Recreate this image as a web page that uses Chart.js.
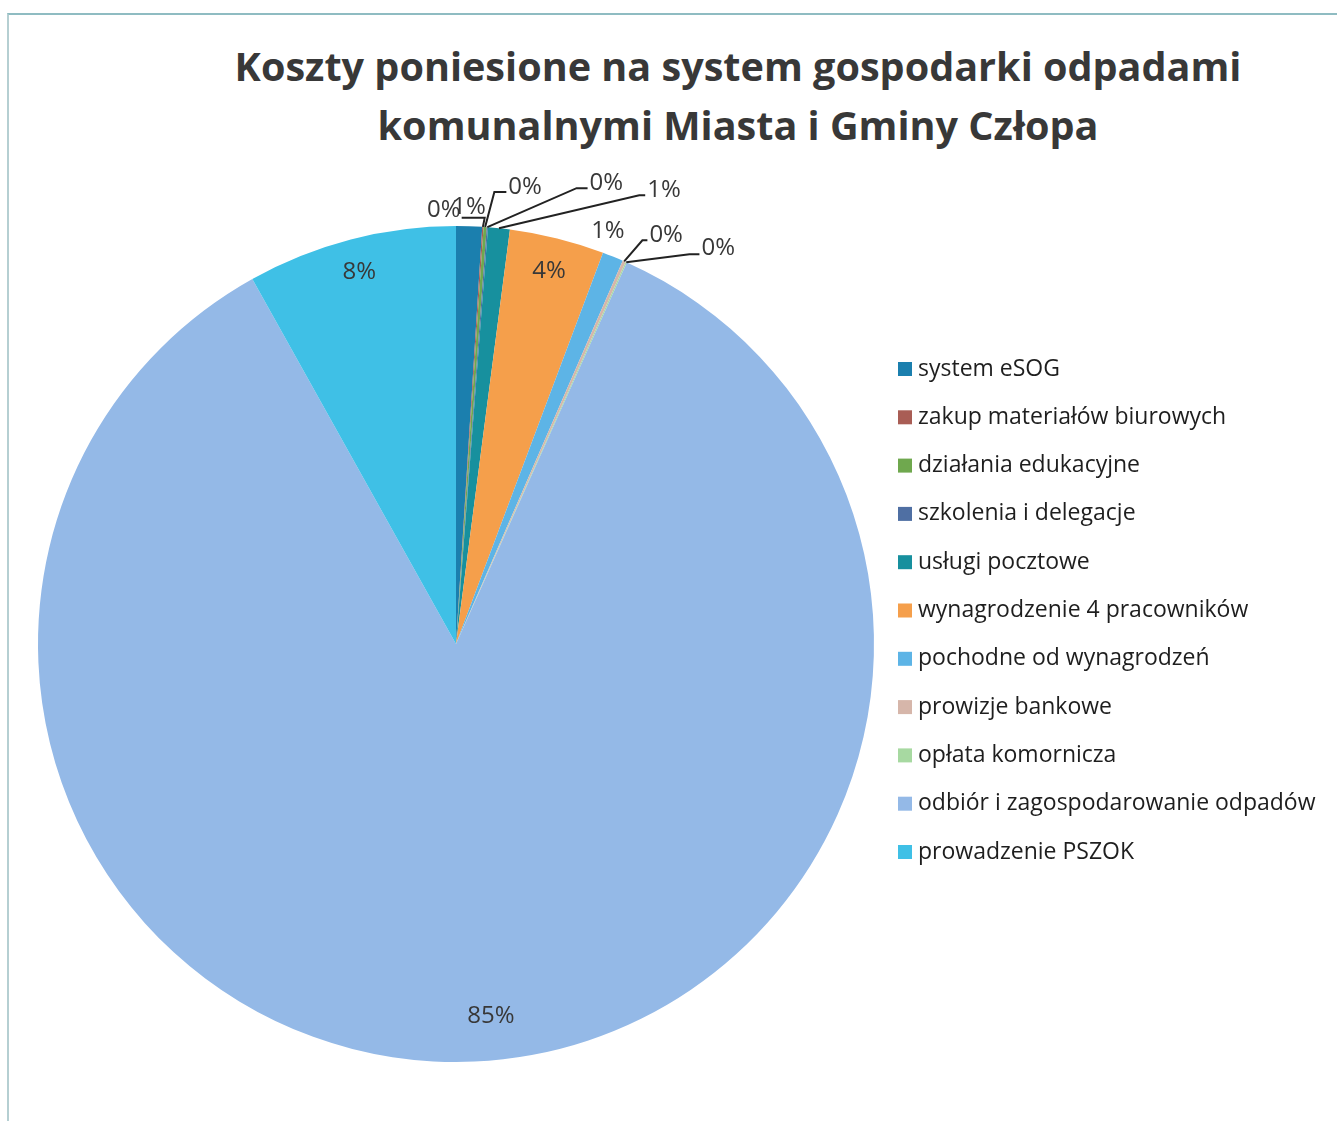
<!DOCTYPE html>
<html>
<head>
<meta charset="utf-8">
<script src="https://cdn.jsdelivr.net/npm/chart.js@4.4.0/dist/chart.umd.min.js"></script>
<style>
body { margin: 0; background: #fff; }
#wrap { position: relative; width: 1337px; height: 1121px; overflow: hidden; background: #fff; }
#frame { position: absolute; left: 7px; top: 13px; width: 1400px; height: 1200px;
  border-top: 2px solid #8fbcc2; border-left: 2px solid #b5cfd2; }
#title { position: absolute; left: 138px; width: 1200px; top: 37px; text-align: center;
  font: bold 39.6px 'Open Sans', sans-serif; color: #383838; line-height: 59px; }
canvas { position: absolute; left: 0; top: 0; }
</style>
</head>
<body>
<div id="wrap">
  <div id="frame"></div>
  <div id="title">Koszty poniesione na system gospodarki odpadami<br>komunalnymi Miasta i Gminy Człopa</div>
  <canvas id="pie" width="1337" height="1121"></canvas>
</div>
<script>
const categories = [
    'system eSOG',
    'zakup materiałów biurowych',
    'działania edukacyjne',
    'szkolenia i delegacje',
    'usługi pocztowe',
    'wynagrodzenie 4 pracowników',
    'pochodne od wynagrodzeń',
    'prowizje bankowe',
    'opłata komornicza',
    'odbiór i zagospodarowanie odpadów',
    'prowadzenie PSZOK'
];
const shares = [1.0, 0.05, 0.12, 0.05, 0.84, 3.66, 0.81, 0.12, 0.05, 85.2, 8.1];
const sliceColors = ['#1b7fae', '#a95d55', '#6fa84e', '#4f6fa3', '#17909e', '#f59f4b',
    '#5db4e6', '#d6b6aa', '#a7d9a1', '#94b9e7', '#3fc0e6'];

// label placement: offset from slice edge (outside) or from radial point (inside)
const labelPlacement = [
    { out: true, dx: 0, dy: -19 },
    { out: true, dx: -39, dy: -17, leader: 'right', hx: 23, ly: 8 },
    { out: true, dx: 40, dy: -40, leader: 'left', hx: 12, ly: 5 },
    { out: true, dx: 119, dy: -44, leader: 'left', hx: 11, ly: 5 },
    { out: true, dx: 165, dy: -38, leader: 'left', hx: 6, ly: 5 },
    { out: false, dx: 0, dy: 0 },
    { out: true, dx: -5, dy: -25 },
    { out: true, dx: 42, dy: -26, leader: 'left', hx: 5, ly: 5 },
    { out: true, dx: 92, dy: -14, leader: 'left', hx: 10, ly: 6 },
    { out: false, dx: 18, dy: -12 },
    { out: false, dx: 0, dy: 0 }
];

const pieLabels = {
    id: 'pieLabels',
    afterDatasetsDraw(chart) {
        const ctx = chart.ctx;
        const meta = chart.getDatasetMeta(0);
        const data = chart.data.datasets[0].data;
        const total = data.reduce((a, b) => a + b, 0);
        ctx.save();
        ctx.font = '24px "Open Sans"';
        ctx.textAlign = 'center';
        ctx.textBaseline = 'middle';
        meta.data.forEach((arc, i) => {
            const p = arc.getProps(['x', 'y', 'startAngle', 'endAngle', 'outerRadius']);
            const mid = (p.startAngle + p.endAngle) / 2;
            const pl = labelPlacement[i];
            const r = pl.out ? p.outerRadius : p.outerRadius * 0.92;
            const ax = p.x + Math.cos(mid) * r;
            const ay = p.y + Math.sin(mid) * r;
            const lx = ax + pl.dx;
            const ly = ay + pl.dy;
            const txt = Math.round(data[i] / total * 100) + '%';
            ctx.fillStyle = '#383838';
            ctx.fillText(txt, lx, ly);
            if (pl.leader) {
                const w = ctx.measureText(txt).width;
                const sx = pl.leader === 'left' ? lx - w / 2 - 2 : lx + w / 2 + 1;
                const sy = ly + pl.ly;
                const ex = pl.leader === 'left' ? sx - pl.hx : sx + pl.hx;
                ctx.strokeStyle = '#222';
                ctx.lineWidth = 2;
                ctx.beginPath();
                ctx.moveTo(sx, sy);
                ctx.lineTo(ex, sy);
                ctx.lineTo(ax, ay);
                ctx.stroke();
            }
        });
        ctx.restore();
    }
};

const sideLegend = {
    id: 'sideLegend',
    afterDraw(chart) {
        const ctx = chart.ctx;
        const colors = chart.data.datasets[0].backgroundColor;
        ctx.save();
        ctx.font = '23px "Open Sans"';
        ctx.textBaseline = 'middle';
        ctx.textAlign = 'left';
        chart.data.labels.forEach((name, i) => {
            const y = 369 + i * 48.3;
            ctx.fillStyle = colors[i];
            ctx.fillRect(898, y - 7, 14, 14);
            ctx.fillStyle = '#1e1e1e';
            ctx.fillText(name, 918, y);
        });
        ctx.restore();
    }
};

new Chart(document.getElementById('pie').getContext('2d'), {
    type: 'pie',
    data: {
        labels: categories,
        datasets: [{ data: shares, backgroundColor: sliceColors, borderWidth: 0 }]
    },
    options: {
        responsive: false,
        animation: false,
        layout: { padding: { left: 38, right: 463, top: 226, bottom: 59 } },
        plugins: { legend: { display: false }, tooltip: { enabled: false } }
    },
    plugins: [pieLabels, sideLegend]
});
</script>
</body>
</html>
